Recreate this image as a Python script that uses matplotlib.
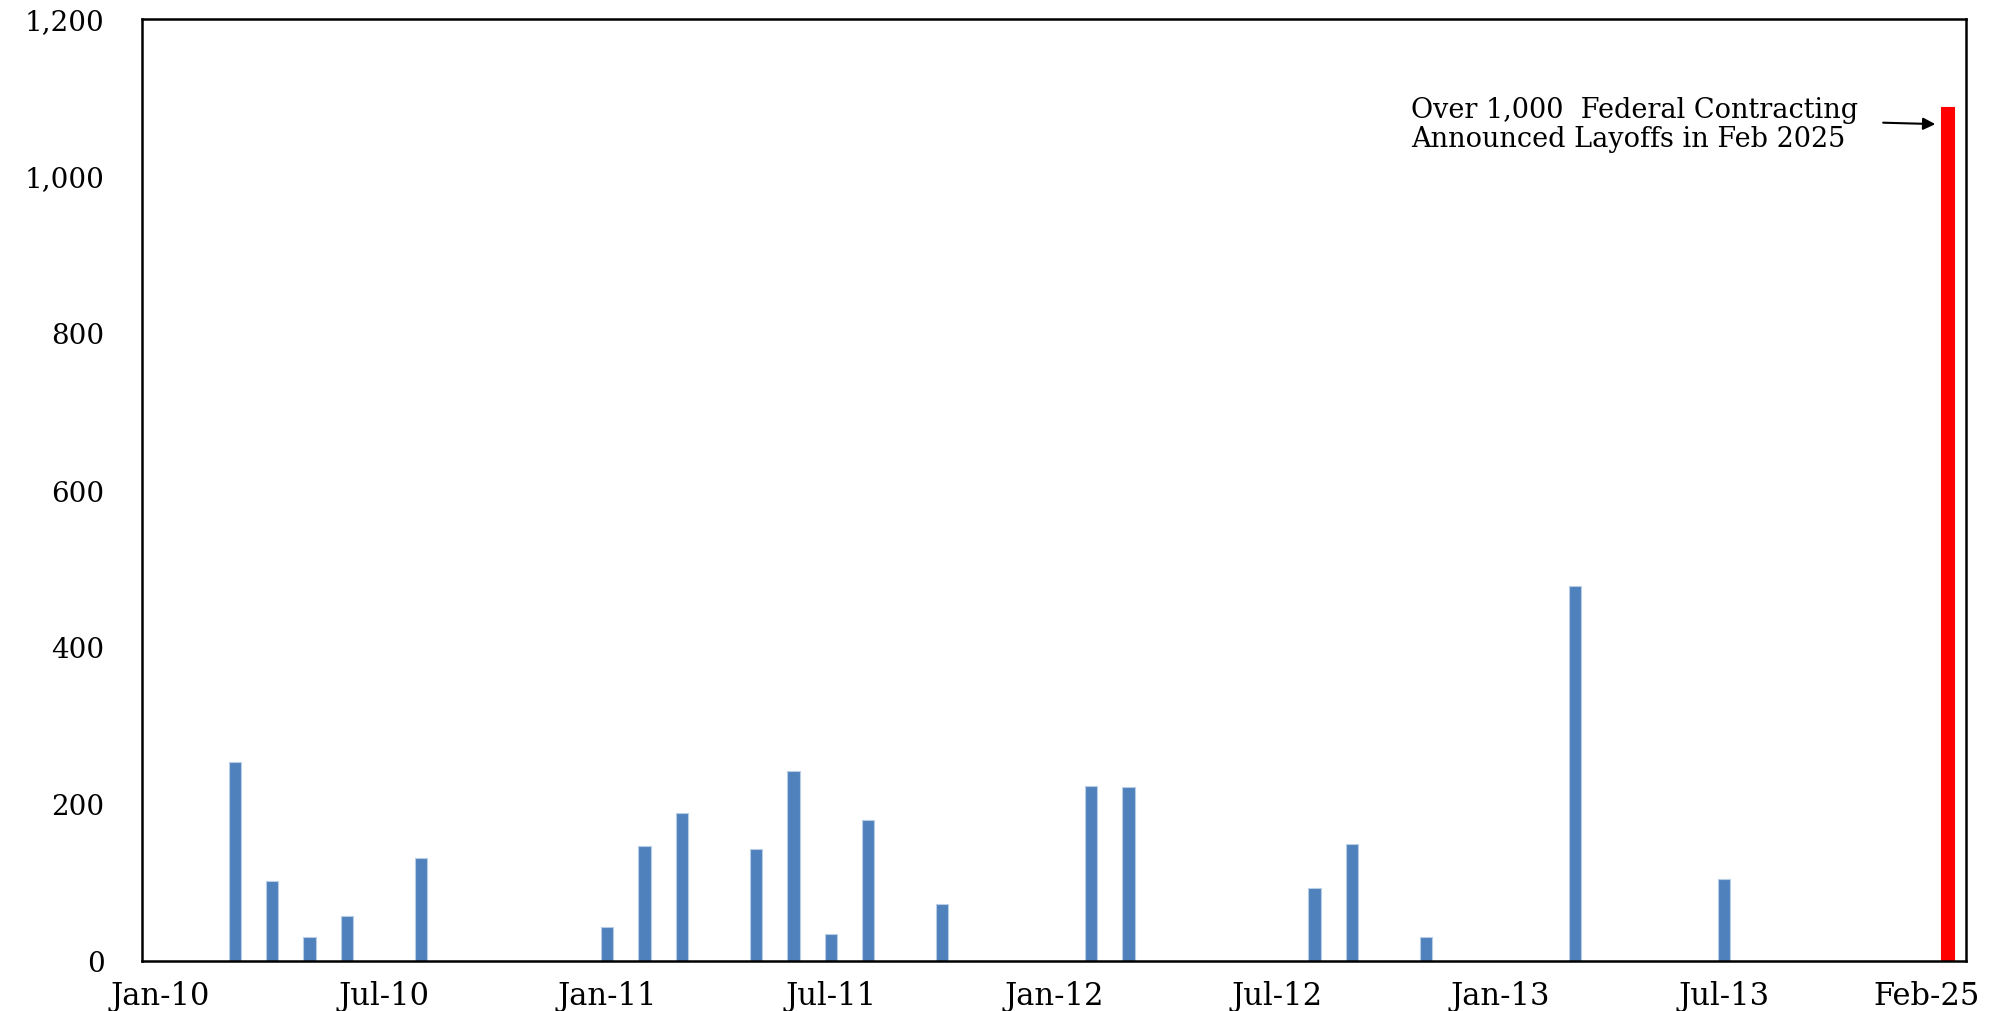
"""Federal contracting announced layoffs by month, 2010-2013 vs Feb 2025."""
import matplotlib

matplotlib.use("Agg")
import matplotlib.pyplot as plt
import matplotlib.transforms as mtransforms
import numpy as np
import pandas as pd

# categories: every month Jan-10 .. Dec-13, then the Feb-25 bar
months = [d.strftime("%b-%y") for d in pd.date_range("2010-01-01", "2013-12-01", freq="MS")]
months.append("Feb-25")

# months with announced layoffs (others are zero)
event_months = ["Mar-10", "Apr-10", "May-10", "Jun-10", "Aug-10",
                "Jan-11", "Feb-11", "Mar-11", "May-11", "Jun-11", "Jul-11", "Aug-11", "Oct-11",
                "Feb-12", "Mar-12", "Aug-12", "Sep-12", "Nov-12",
                "Mar-13", "Jul-13"]
event_layoffs = [253, 102, 30, 57, 131,
                 43, 146, 189, 143, 242, 34, 179, 73,
                 223, 222, 93, 149, 30,
                 478, 105]
feb25_layoffs = 1088

tick_labels = ["Jan-10", "Jul-10", "Jan-11", "Jul-11", "Jan-12", "Jul-12", "Jan-13", "Jul-13", "Feb-25"]

BLUE = "#4f81bd"
BLUE_EDGE = "#b9cde6"
RED = "#ff0000"
FONT = "DejaVu Serif"

layoffs = pd.Series(0, index=months, dtype=float)
layoffs[event_months] = event_layoffs
layoffs["Feb-25"] = feb25_layoffs

fig = plt.figure(figsize=(19.95, 10.12), dpi=100)
ax = fig.add_axes([142 / 1995, 50 / 1012, (1966 - 142) / 1995, (962 - 20) / 1012])

x = np.arange(len(months))
colors = [RED if m == "Feb-25" else BLUE for m in months]
edges = [RED if m == "Feb-25" else BLUE_EDGE for m in months]
ax.bar(x, layoffs.values, width=0.33, color=colors, edgecolor=edges, linewidth=0.8)

ax.set_xlim(-0.5, len(months) - 0.5)
ax.set_ylim(0, 1200)
ax.set_yticks(np.arange(0, 1201, 200))
ax.set_yticklabels([f"{v:,.0f}" for v in np.arange(0, 1201, 200)], fontfamily=FONT, fontsize=20)
ax.set_xticks([months.index(t) for t in tick_labels])
ax.set_xticklabels(tick_labels, fontfamily=FONT, fontsize=22)
ax.tick_params(axis="both", length=0)
ax.tick_params(axis="y", pad=27)
ax.tick_params(axis="x", pad=14)
for s in ax.spines.values():
    s.set_linewidth(1.8)
    s.set_color("black")

# last label sits a bit left of its bar so it stays inside the image
last = ax.get_xticklabels()[-1]
last.set_transform(last.get_transform() + mtransforms.ScaledTranslation(-0.21, 0, fig.dpi_scale_trans))

# callout
ax.text(33.6, 1066, "Over 1,000  Federal Contracting\nAnnounced Layoffs in Feb 2025",
        ha="left", va="center", fontfamily=FONT, fontsize=19.5, linespacing=1.1)
ax.annotate("", xy=(47.75, 1066), xytext=(46.2, 1068),
            arrowprops=dict(arrowstyle="-|>", color="black", lw=1.5, mutation_scale=18))

fig.savefig("out.png", dpi=100, facecolor="white")
